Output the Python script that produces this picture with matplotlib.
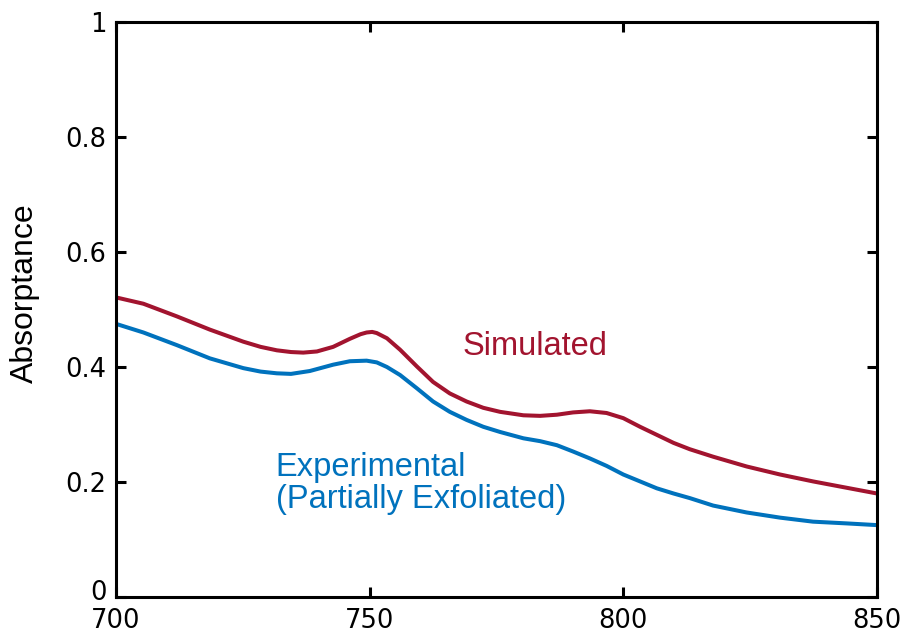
import matplotlib
matplotlib.use("Agg")
import matplotlib.pyplot as plt
from matplotlib.transforms import ScaledTranslation

# Simulated absorptance
sim_x = [700, 705.4, 712, 718.5, 725.1, 728.5, 731.7, 734.5, 736.9, 739.6, 742.8, 746.1,
         748.2, 749.4, 750.5, 751.4, 753.4, 756, 759.3, 762.5, 765.8, 769.1, 772.4,
         775.7, 780.3, 783.6, 786.9, 790.1, 793.4, 796.7, 800, 803.3, 806.6, 809.9,
         813.1, 817.7, 824.3, 830.9, 837.4, 844, 850]
sim_y = [0.521, 0.510, 0.488, 0.465, 0.444, 0.435, 0.429, 0.426, 0.425, 0.427, 0.435, 0.449,
         0.457, 0.460, 0.461, 0.459, 0.450, 0.430, 0.401, 0.374, 0.354, 0.340, 0.329,
         0.322, 0.316, 0.315, 0.317, 0.321, 0.323, 0.320, 0.311, 0.296, 0.282, 0.268,
         0.257, 0.244, 0.227, 0.213, 0.201, 0.190, 0.180]

# Experimental absorptance (partially exfoliated)
exp_x = [700, 705.4, 712, 718.5, 725.1, 728.5, 731.7, 734.5, 738.2, 742.8, 746.1, 749.4,
         751.4, 753.4, 756, 759.3, 762.5, 765.8, 769.1, 772.4, 775.7, 780.3, 783.6,
         786.9, 790.1, 793.4, 796.7, 800, 803.3, 806.6, 809.9, 813.1, 817.7, 824.3,
         830.9, 837.4, 844, 850]
exp_y = [0.475, 0.460, 0.438, 0.415, 0.398, 0.392, 0.389, 0.388, 0.393, 0.404, 0.410, 0.411,
         0.408, 0.400, 0.386, 0.363, 0.340, 0.322, 0.308, 0.296, 0.287, 0.276, 0.271,
         0.264, 0.253, 0.241, 0.228, 0.213, 0.201, 0.189, 0.180, 0.172, 0.159, 0.147,
         0.138, 0.131, 0.128, 0.125]

x_ticks = [700, 750, 800, 850]
y_ticks = [0, 0.2, 0.4, 0.6, 0.8, 1]
y_tick_labels = ["0", "0.2", "0.4", "0.6", "0.8", "1"]

red = "#A2142F"
blue = "#0072BD"

fig = plt.figure(figsize=(9.07, 6.37), dpi=100)
ax = fig.add_axes([0.1279, 0.0628, 0.9669 - 0.1279, 0.9655 - 0.0628])

ax.plot(sim_x, sim_y, color=red, lw=2.9, solid_capstyle="butt", solid_joinstyle="round")
ax.plot(exp_x, exp_y, color=blue, lw=2.9, solid_capstyle="butt", solid_joinstyle="round")

ax.set_xlim(700, 850)
ax.set_ylim(0, 1)
ax.set_xticks(x_ticks)
ax.set_yticks(y_ticks)
ax.set_yticklabels(y_tick_labels)

for s in ax.spines.values():
    s.set_linewidth(2.2)
ax.tick_params(direction="in", length=7, width=2.2, top=True, right=True,
               labelsize=18.5, pad=7)
ax.tick_params(axis="x", pad=8)

# nudge the "0" label up slightly so it clears the "700" label
zero_lbl = ax.get_yticklabels()[0]
zero_lbl.set_transform(zero_lbl.get_transform() +
                       ScaledTranslation(0, 5 / 72, fig.dpi_scale_trans))

ax.set_ylabel("Absorptance", fontsize=23, family="Liberation Sans")
ax.yaxis.set_label_coords(-0.100, 0.529)

ax.text(782.6, 0.435, "Simulated", color=red, fontsize=23.5, family="Liberation Sans",
        ha="center", va="center")
ax.text(731.5, 0.198, "Experimental\n(Partially Exfoliated)", color=blue, fontsize=23.5,
        family="Liberation Sans", ha="left", va="center", linespacing=1.05)

fig.savefig("out.png", dpi=100)
